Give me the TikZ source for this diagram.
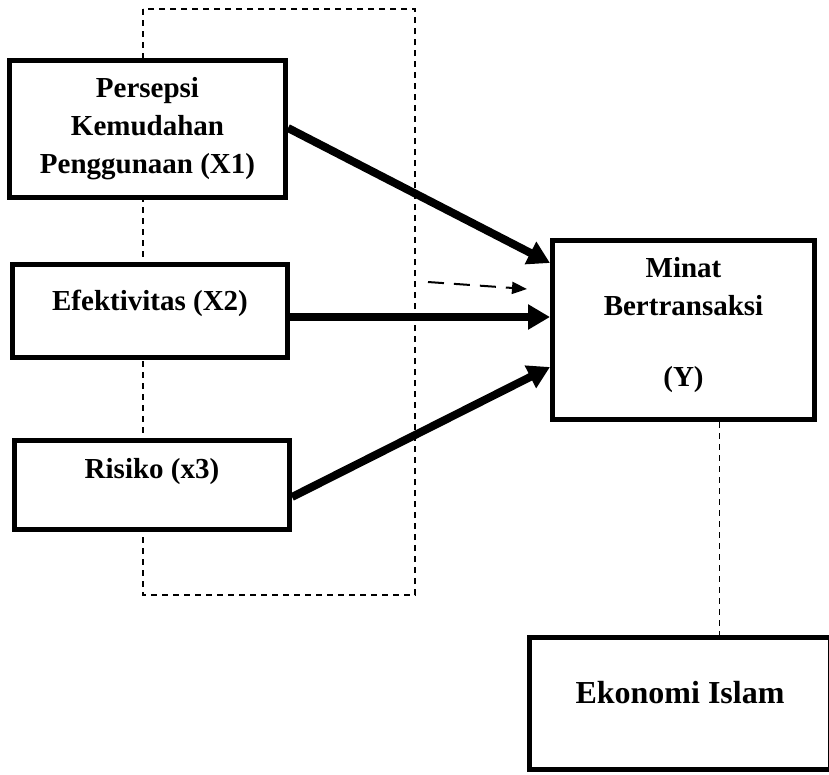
\documentclass[tikz,border=0pt]{standalone}
\usepackage{fontspec}
\setmainfont{Liberation Serif}
\usetikzlibrary{arrows.meta,positioning}

\begin{document}
\begin{tikzpicture}[x=1pt,y=-1pt,
    varbox/.style={draw, line width=5pt, fill=white, inner sep=0pt},
    boxtext/.style={draw=none, fill=none, inner sep=2pt, align=center,
      font=\bfseries\fontsize{29}{38}\selectfont},
    bigarrow/.style={line width=8pt, -{Triangle[length=22pt,width=24pt]}},
    thinarrow/.style={line width=2pt, dash pattern=on 16pt off 10pt, -{Triangle[length=15pt,width=12pt]}}]
  \clip (0,0) rectangle (829,774);
  % frame behind the variables
  \draw[line width=1.8pt, dash pattern=on 6pt off 5pt] (143,9) rectangle (415,595);
  \begin{scope}[every node/.style={varbox}, every label/.style={boxtext}]
    \node[minimum width=276pt, minimum height=137pt,
      label={center:Persepsi\\Kemudahan\\Penggunaan (X1)}] (X1) at (147.5,129) {};
    \node[minimum width=275pt, minimum height=93pt,
      label={[yshift=8pt]center:Efektivitas (X2)}] (X2) at (150,311) {};
    \node[minimum width=275pt, minimum height=89pt,
      label={[yshift=13pt]center:Risiko (x3)}] (X3) at (152,485) {};
    \node[minimum width=262pt, minimum height=179pt,
      label={[yshift=5pt]center:Minat\\Bertransaksi\\[33pt](Y)}] (Y) at (683.5,330) {};
    \node[minimum width=301pt, minimum height=132pt,
      label={[yshift=11pt, font=\bfseries\fontsize{32}{38}\selectfont]center:Ekonomi Islam}] (EI) at (680,703.5) {};
  \end{scope}
  \coordinate (d1) at (428,282);
  \coordinate (d2) at (527,289);
  \coordinate (ys) at ([xshift=36pt]Y.south);
  \begin{scope}
    \draw[bigarrow] ([yshift=1pt]X1.east) -- ([yshift=67pt]Y.west);
    \draw[bigarrow] ([yshift=-6pt]X2.east) -- ([yshift=13pt]Y.west);
    \draw[bigarrow] ([yshift=-12pt]X3.east) -- ([yshift=-37pt]Y.west);
    \draw[thinarrow] (d1) -- (d2);
    \draw[line width=1.8pt, dash pattern=on 6pt off 5pt] (ys) -- (ys |- EI.north);
  \end{scope}
\end{tikzpicture}
\end{document}
